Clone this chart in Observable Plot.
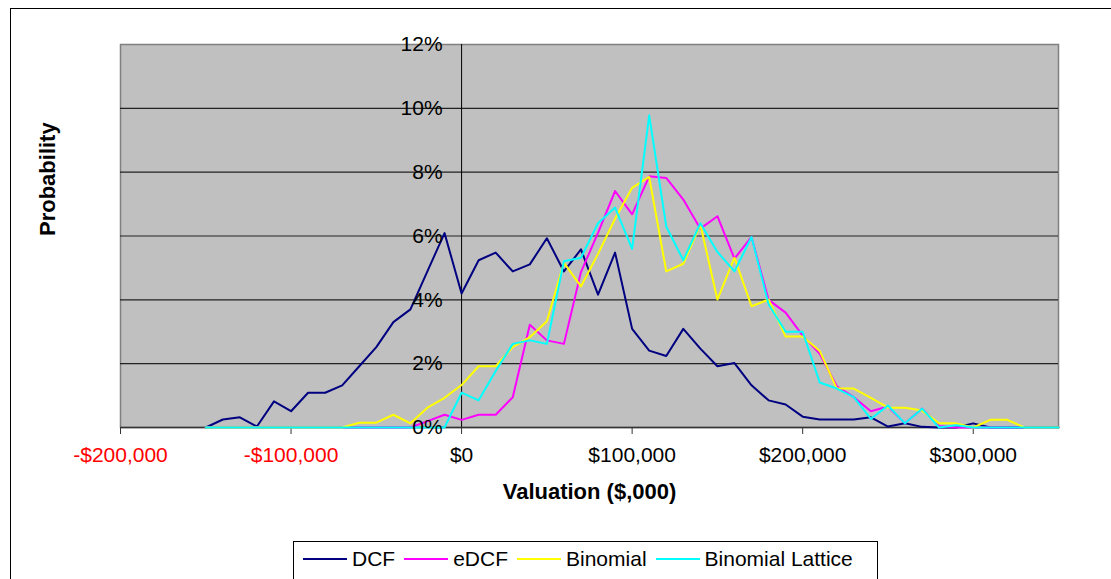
<!DOCTYPE html>
<html>
<head>
<meta charset="utf-8">
<script src="https://cdn.jsdelivr.net/npm/d3@7"></script>
<script src="https://cdn.jsdelivr.net/npm/@observablehq/plot@0.6"></script>
<style>
  html, body { margin: 0; padding: 0; background: #fff; }
  body { width: 1111px; height: 579px; overflow: hidden; position: relative; font-family: "Liberation Sans", Arial, sans-serif; }
  #outer { position: absolute; left: 10px; top: 8px; width: 1200px; height: 700px; border-left: 1px solid #000; border-top: 1px solid #000; }
  #chart { position: absolute; left: 0; top: 0; }
  #legend { position: absolute; left: 293px; top: 541px; width: 585px; height: 60px; border: 1px solid #000; background: #fff; box-sizing: border-box; }
  #legend .items { display: flex; align-items: center; height: 34px; padding-left: 9px; font-size: 21px; color: #000; }
  #legend .sw { width: 44px; height: 2px; margin-right: 5px; }
  #legend .lab { margin-right: 9px; white-space: nowrap; }
</style>
</head>
<body>
<div id="outer"></div>
<div id="chart"></div>
<div id="legend"><div class="items" id="legendItems"></div></div>
<script>
// Valuation bins ($)
const valuations = [-150000,-140000,-130000,-120000,-110000,-100000,-90000,-80000,-70000,-60000,-50000,-40000,-30000,-20000,-10000,
  0,10000,20000,30000,40000,50000,60000,70000,80000,90000,100000,110000,120000,130000,140000,150000,160000,170000,180000,190000,
  200000,210000,220000,230000,240000,250000,260000,270000,280000,290000,300000,310000,320000,330000,340000,350000];

// Probability (%)
const dcf = [0,0.25,0.32,0.03,0.82,0.51,1.09,1.09,1.32,1.92,2.52,3.3,3.7,4.9,6.09,
  4.2,5.24,5.48,4.89,5.11,5.93,4.89,5.58,4.16,5.48,3.09,2.41,2.24,3.09,2.47,1.92,2.02,1.32,0.85,0.72,
  0.34,0.25,0.25,0.25,0.32,0.03,0.13,0.02,0,0,0.13,0,0,0,0,0];
const edcf = [0,0,0,0,0,0,0,0,0,0,0,0,0,0.2,0.4,
  0.24,0.4,0.4,0.95,3.22,2.73,2.62,4.87,6.1,7.41,6.68,7.87,7.82,7.14,6.23,6.62,5.29,5.97,4.0,3.6,
  2.88,2.31,1.29,0.95,0.51,0.66,0.13,0.59,0.05,0,0,0,0,0,0,0];
const binomial = [0,0,0,0,0,0,0,0,0,0.15,0.15,0.4,0.13,0.62,0.93,
  1.33,1.92,1.92,2.52,2.83,3.33,5.16,4.42,5.44,6.54,7.51,7.85,4.89,5.13,6.36,4.01,5.32,3.8,4.01,2.85,
  2.85,2.4,1.22,1.22,0.93,0.62,0.62,0.53,0.13,0.13,0,0.24,0.24,0,0,0];
const lattice = [0,0,0,0,0,0,0,0,0,0,0,0,0,0,0,
  1.09,0.85,1.77,2.62,2.73,2.62,5.21,5.32,6.4,6.89,5.6,9.78,6.3,5.24,6.4,5.5,4.89,5.97,3.86,3.0,
  3.0,1.41,1.22,0.95,0.27,0.69,0.13,0.59,0,0.07,0,0,0,0,0,0];

const seriesNames = ["DCF", "eDCF", "Binomial", "Binomial Lattice"];
const seriesColors = ["#000080", "#ff00ff", "#ffff00", "#00ffff"];
const seriesValues = [dcf, edcf, binomial, lattice];

const xTicks = [-200000,-100000,0,100000,200000,300000];
const yTicks = [0,2,4,6,8,10,12];

const fmt = d3.format(",");
const money = d => (d < 0 ? "-$" : "$") + fmt(Math.abs(d));

const rows = seriesNames.map((name, i) => valuations.map((v, j) => ({series: name, x: v, y: seriesValues[i][j]})));

const marks = [
  Plot.frame({fill: "#c0c0c0", stroke: "#808080", strokeWidth: 1.5}),
  Plot.ruleY(yTicks.filter(d => d > 0 && d < 12), {stroke: "#222", strokeWidth: 1.2}),
  Plot.ruleX([0], {stroke: "#000", strokeWidth: 1}),
  Plot.ruleY([0], {stroke: "#333", strokeWidth: 1.5}),
  Plot.axisX({ticks: xTicks, tickSize: 7, tickFormat: () => "", label: null, stroke: "#333"}),
  Plot.text(xTicks.filter(d => d < 0), {x: d => d, frameAnchor: "bottom", dy: 34, text: money, fill: "#ff0000", fontSize: 21}),
  Plot.text(xTicks.filter(d => d >= 0), {x: d => d, frameAnchor: "bottom", dy: 34, text: money, fill: "#000", fontSize: 21}),
  ...rows.map((r, i) => Plot.line(r, {x: "x", y: "y", stroke: seriesColors[i], strokeWidth: 2})),
  Plot.text(yTicks, {x: 0, y: d => d, text: d => d + "%", textAnchor: "end", dx: -19, fill: "#000", fontSize: 21}),
  Plot.text(["Valuation ($,000)"], {frameAnchor: "bottom", dy: 71, fontWeight: "bold", fontSize: 22, fill: "#000"}),
  Plot.text(["Probability"], {frameAnchor: "left", dx: -73, rotate: -90, fontWeight: "bold", fontSize: 22, fill: "#000"})
];

const chart = Plot.plot({
  width: 1111,
  height: 530,
  marginLeft: 120,
  marginRight: 53,
  marginTop: 44,
  marginBottom: 103,
  x: {domain: [-200000, 350000], axis: null, label: null},
  y: {domain: [0, 12], axis: null, label: null},
  style: {fontFamily: "'Liberation Sans', Arial, sans-serif", fontSize: "21px", background: "transparent", overflow: "visible"},
  marks
});
document.getElementById("chart").appendChild(chart);

const li = document.getElementById("legendItems");
seriesNames.forEach((name, i) => {
  const sw = document.createElement("span");
  sw.className = "sw";
  sw.style.background = seriesColors[i];
  const lab = document.createElement("span");
  lab.className = "lab";
  lab.textContent = name;
  li.appendChild(sw);
  li.appendChild(lab);
});
</script>
</body>
</html>
